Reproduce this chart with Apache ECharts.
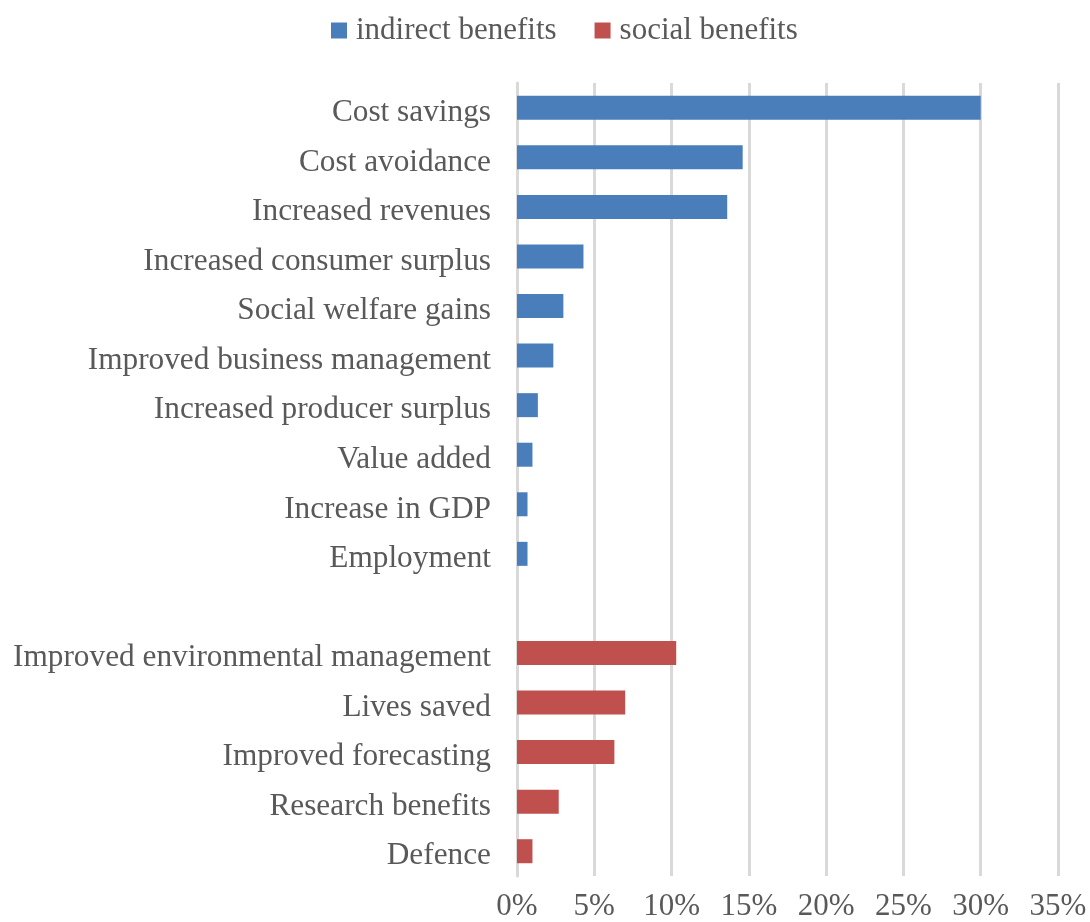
<!DOCTYPE html>
<html>
<head>
<meta charset="utf-8">
<script src="https://cdn.jsdelivr.net/npm/echarts@6/dist/echarts.min.js"></script>
<style>
html,body{margin:0;padding:0;background:#fff;}
#chart{width:1090px;height:922px;}
</style>
</head>
<body>
<div id="chart"></div>
<script>
const categories = [
  'Cost savings', 'Cost avoidance', 'Increased revenues', 'Increased consumer surplus',
  'Social welfare gains', 'Improved business management', 'Increased producer surplus',
  'Value added', 'Increase in GDP', 'Employment', '',
  'Improved environmental management', 'Lives saved', 'Improved forecasting',
  'Research benefits', 'Defence'
];
const indirectValues = [30, 14.6, 13.6, 4.3, 3.0, 2.35, 1.35, 1.0, 0.68, 0.68, null, null, null, null, null, null];
const socialValues = [null, null, null, null, null, null, null, null, null, null, null, 10.3, 7.0, 6.3, 2.7, 1.0];
const xTicks = { min: 0, max: 35, interval: 5 };
const seriesNames = ['indirect benefits', 'social benefits'];

const font = 'Liberation Serif';
const textColor = '#595959';
const chart = echarts.init(document.getElementById('chart'));
chart.setOption({
  animation: false,
  backgroundColor: '#fff',
  legend: {
    top: 10,
    left: 326,
    itemWidth: 16,
    itemHeight: 16,
    itemGap: 38,
    icon: 'rect',
    textStyle: { fontFamily: font, fontSize: 31, color: textColor, padding: [0, 0, 0, 4] },
    data: seriesNames
  },
  grid: { left: 517, right: 32, top: 83, bottom: 45, containLabel: false },
  xAxis: {
    type: 'value',
    min: xTicks.min, max: xTicks.max, interval: xTicks.interval,
    axisLine: { show: false },
    axisTick: { show: false },
    splitLine: { show: true, lineStyle: { color: '#d9d9d9', width: 3 } },
    axisLabel: { formatter: '{value}%', fontFamily: font, fontSize: 31, color: textColor, margin: 15 }
  },
  yAxis: {
    type: 'category',
    inverse: true,
    data: categories,
    axisLine: { show: true, lineStyle: { color: '#d9d9d9', width: 3 } },
    axisTick: { show: false },
    axisLabel: { fontFamily: font, fontSize: 31.3, color: textColor, margin: 26,
      verticalAlign: 'top', lineHeight: 10 }
  },
  series: [
    { name: seriesNames[0], type: 'bar', data: indirectValues, barWidth: 24, barGap: '-100%',
      itemStyle: { color: '#4a7ebb' } },
    { name: seriesNames[1], type: 'bar', data: socialValues, barWidth: 24, barGap: '-100%',
      itemStyle: { color: '#c0504d' } }
  ]
});
</script>
</body>
</html>
